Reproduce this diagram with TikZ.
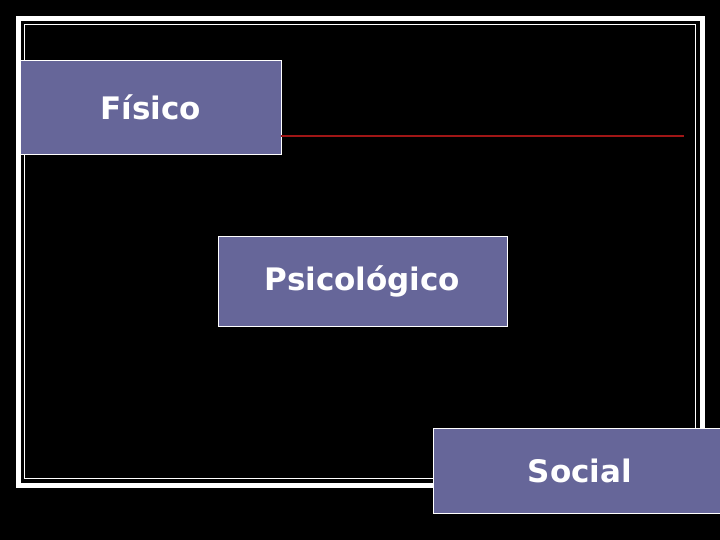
\documentclass[tikz,border=0pt]{standalone}
\usepackage{fontspec}
\setmainfont{DejaVu Sans}
\usepackage{tikz}
\definecolor{boxblue}{RGB}{102,102,153}
\definecolor{rulered}{RGB}{160,22,22}

\begin{document}
\begin{tikzpicture}[x=1pt, y=-1pt,
  every node/.style={font=\fontsize{31}{36}\selectfont\bfseries, text=white},
  slidebox/.style={draw=white, line width=0.8pt, fill=boxblue, inner sep=0pt}]
  \fill[black] (0,0) rectangle (720,540);
  \useasboundingbox (0,0) rectangle (720,540);
  \clip (0,0) rectangle (720,540);
  \draw[white, line width=4.5pt] (18.5,18.5) rectangle (702.5,485.5);
  \draw[white, line width=1.2pt] (24.5,24.5) rectangle (695.5,478.5);
  \node[slidebox, minimum width=261pt, minimum height=94pt] (fisico) at (150.5,107.5) {Físico};
  \node[slidebox, minimum width=289pt, minimum height=90pt] (psico) at (362.5,281) {Psicológico};
  \node[slidebox, minimum width=294pt, minimum height=85pt] (social) at (580,470.5) {Social};
  \coordinate (ruleend) at (684,136);
  \draw[rulered, line width=2pt] (fisico.east |- ruleend) -- (ruleend);
\end{tikzpicture}
\end{document}
